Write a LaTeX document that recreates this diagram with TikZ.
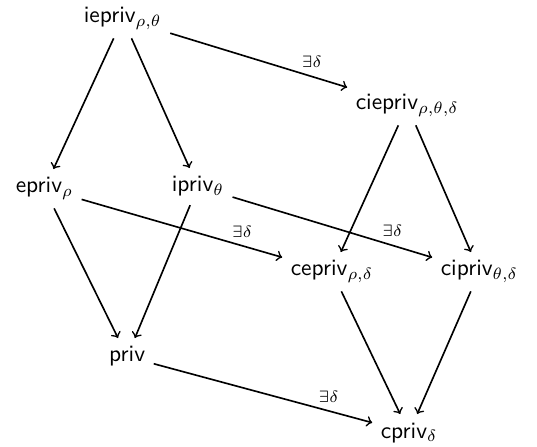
\documentclass[tikz,border=0pt]{standalone}
\begin{document}
\begin{tikzpicture}
  [
    >=to,
    every path/.style = {line width=0.7pt},
    notion/.style = {font=\sffamily, anchor=base west},
    exists/.style = {font=\scriptsize, above, pos=0.8},
  ]

  \useasboundingbox (0,0) rectangle (8.055,-6.705);

  % back face
  \node[notion] (iepriv) at (1.128,-0.345) {iepriv$_{\rho,\theta}$};
  \node[notion] (epriv) at (0.108,-2.895) {epriv$_{\rho}$};
  \node[notion] (ipriv) at (2.448,-2.88) {ipriv$_{\theta}$};
  \node[notion] (priv) at (1.509,-5.43) {priv};

  % front face
  \node[notion] (ciepriv) at (5.208,-1.65) {ciepriv$_{\rho,\theta,\delta}$};
  \node[notion] (cepriv) at (4.233,-4.14) {cepriv$_{\rho,\delta}$};
  \node[notion] (cipriv) at (6.483,-4.14) {cipriv$_{\theta,\delta}$};
  \node[notion] (cpriv) at (5.583,-6.57) {cpriv$_{\delta}$};

  \draw[->] (iepriv) -- (epriv);
  \draw[->] (iepriv) -- (ipriv);
  \draw[->] (epriv) -- (priv);
  \draw[->] (ipriv) -- (priv);

  \draw[->] (ciepriv) -- (cepriv);
  \draw[->] (ciepriv) -- (cipriv);
  \draw[->] (cepriv) -- (cpriv);
  \draw[->] (cipriv) -- (cpriv);

  \draw[->] (iepriv) -- node[exists] {$\exists\delta$} (ciepriv);
  \draw[->] (epriv) -- node[exists] {$\exists\delta$} (cepriv);
  \draw[->] (ipriv) -- node[exists] {$\exists\delta$} (cipriv);
  \draw[->] (priv) -- node[exists] {$\exists\delta$} (cpriv);

\end{tikzpicture}
\end{document}
